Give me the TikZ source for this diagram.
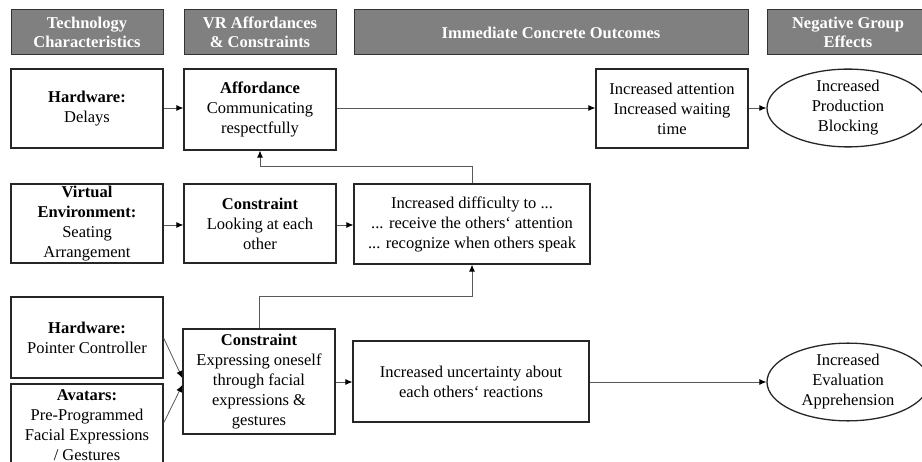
\documentclass[tikz,border=0pt]{standalone}
\usepackage{fontspec}
\setmainfont{Liberation Serif}
\usetikzlibrary{arrows.meta,shapes.geometric}
\begin{document}
\begin{tikzpicture}[x=1pt,y=-1pt,
  every node/.style={font=\fontsize{16.5}{20}\selectfont, align=center, inner sep=0pt},
  hdr/.style={draw=black!80, line width=1pt, fill=black!50, text=white, font=\fontsize{16.5}{19.5}\selectfont\bfseries, minimum height=45pt},
  box/.style={draw=black!85, line width=1.3pt, minimum width=152pt},
  ell/.style={ellipse, draw=black!85, line width=1.3pt, minimum width=162pt, minimum height=70pt},
  conn/.style={draw=black!65, line width=0.8pt, -{Latex[length=7pt,width=6pt,color=black]}}
]
\useasboundingbox (0,0) rectangle (922,462);
% headers
\node[hdr, minimum width=152pt] (h1) at (87,32.5) {Technology\\Characteristics};
\node[hdr, minimum width=152pt] (h2) at (260,32.5) {VR Affordances\\\& Constraints};
\node[hdr, minimum width=394pt] (h3) at (551,32.5) {Immediate Concrete Outcomes};
\node[hdr, minimum width=162pt] (h4) at (848,32.5) {Negative Group\\Effects};
% row 1
\node[box, minimum height=79pt] (hw1) at (87,108.5) {\textbf{Hardware:}\\Delays};
\node[box, minimum height=81pt] (aff) at (260,109.5) {\textbf{Affordance}\\Communicating\\respectfully};
\node[box, minimum height=79pt] (out1) at (672,108.5) {Increased attention\\Increased waiting\\time};
\node[ell] (ell1) at (848,108) {Increased\\Production\\Blocking};
% row 2
\node[box, minimum height=79pt] (ve) at (87,223.5) {\textbf{Virtual}\\\textbf{Environment:}\\Seating\\Arrangement};
\node[box, minimum height=79pt] (con1) at (260,223.5) {\textbf{Constraint}\\Looking at each\\other};
\node[box, minimum width=236pt, minimum height=80pt] (diff) at (472,224) {Increased difficulty to ...\\... receive the others‘ attention\\... recognize when others speak};
% row 3
\node[box, minimum height=81pt] (hw2) at (87,337.5) {\textbf{Hardware:}\\Pointer Controller};
\node[box, minimum height=83pt] (av) at (87,425.5) {\textbf{Avatars:}\\Pre-Programmed\\Facial Expressions\\/ Gestures};
\node[box, minimum height=105pt] (con2) at (259,381.5) {\textbf{Constraint}\\Expressing oneself\\through facial\\expressions \&\\gestures};
\node[box, minimum width=236pt, minimum height=81pt] (unc) at (471,381.5) {Increased uncertainty about\\each others‘ reactions};
\node[ell] (ell2) at (848,382) {Increased\\Evaluation\\Apprehension};
% connectors
\draw[conn] (hw1.east |- 0,108) -- (aff.west |- 0,108);
\draw[conn] (aff.east |- 0,108) -- (out1.west |- 0,108);
\draw[conn] (out1.east |- 0,108) -- (ell1.west);
\draw[conn] (ve.east |- 0,225) -- (con1.west |- 0,225);
\draw[conn] (con1.east |- 0,225) -- (diff.west |- 0,225);
\draw[conn] (diff.north) -- ++(0,-17) -| (aff.south);
\draw[conn] (con2.north) -- ++(0,-32) -| (diff.south);
\draw[conn] (hw2.east |- 0,338) -- (con2.west |- 0,378);
\draw[conn] (av.east |- 0,423) -- (con2.west |- 0,385);
\draw[conn] (con2.east |- 0,382) -- (unc.west |- 0,382);
\draw[conn] (unc.east |- 0,382) -- (ell2.west);
\end{tikzpicture}
\end{document}
